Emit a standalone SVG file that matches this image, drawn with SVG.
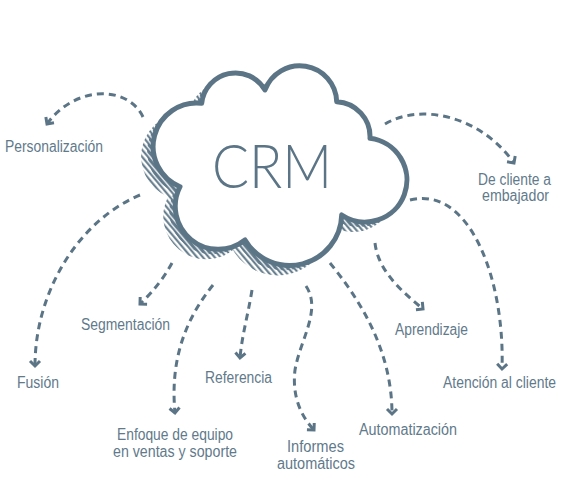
<svg xmlns="http://www.w3.org/2000/svg" width="573" height="492" viewBox="0 0 573 492">
<defs>
<style>
.lbl{font-family:"Liberation Sans Narrow","Liberation Sans",sans-serif;font-size:16px;fill:#5f7a8b;text-anchor:middle}
.crm{font-family:Lato,"Liberation Sans",sans-serif;font-weight:300;font-size:62px;fill:#5b7586;text-anchor:middle}
.con{fill:none;stroke:#5b7586;stroke-width:3;stroke-dasharray:7 5}
</style>
<marker id="arr" viewBox="-8 -8 12 16" markerWidth="12" markerHeight="16" refX="0" refY="0" orient="auto" markerUnits="userSpaceOnUse">
<path d="M-5,-5 L0,0 L-5,5" fill="none" stroke="#5b7586" stroke-width="3" stroke-linejoin="miter"/>
</marker>
<pattern id="hatch" width="4.5" height="4.5" patternUnits="userSpaceOnUse" patternTransform="rotate(-40)">
<line x1="1.2" y1="0" x2="1.2" y2="4.5" stroke="#5b7586" stroke-width="2"/>
</pattern>
<path id="cloudShape" d="M201.7,103.3 A34,34 0 0 1 265,90 A37,37 0 0 1 336.7,101.7 A35,35 0 0 1 370,138.3 A42,42 0 1 1 341.7,215 A52,52 0 0 1 245,240 A43,43 0 0 1 180,186.7 A43.5,43.5 0 0 1 201.7,103.3 Z"/>
</defs>
<g id="connectors">
<path class="con" marker-end="url(#arr)" d="M143,117 C128,85 75,85 47,124"/>
<path class="con" marker-end="url(#arr)" d="M385,124 C420,103 480,115 514,163"/>
<path class="con" marker-end="url(#arr)" d="M140,195 C80,220 35,290 35,366"/>
<path class="con" marker-end="url(#arr)" d="M172,263 Q160,285 140,304"/>
<path class="con" marker-end="url(#arr)" d="M213,285 C185,320 170,360 175,413"/>
<path class="con" marker-end="url(#arr)" d="M252,290 C248,315 242,335 240,358"/>
<path class="con" marker-end="url(#arr)" d="M306,286 C322,310 300,340 295,370 C292,395 300,415 314,430"/>
<path class="con" marker-end="url(#arr)" d="M330,263 C360,300 392,350 392,414"/>
<path class="con" marker-end="url(#arr)" d="M375,243 C378,270 400,290 423,309"/>
<path class="con" marker-end="url(#arr)" d="M410,200 C470,185 505,280 502,369"/>
</g>
<g id="cloud">
<use href="#cloudShape" transform="translate(-12,10)" fill="url(#hatch)"/>
<use href="#cloudShape" transform="translate(-6,5)" fill="url(#hatch)"/>
<use href="#cloudShape" fill="#ffffff" stroke="#5b7586" stroke-width="5" stroke-linejoin="round"/>
<text class="crm" x="272" y="188" textLength="120" lengthAdjust="spacingAndGlyphs">CRM</text>
</g>
<g id="personalizacion"><text class="lbl" x="54" y="152" textLength="98" lengthAdjust="spacingAndGlyphs">Personalización</text></g>
<g id="segmentacion"><text class="lbl" x="125.5" y="330" textLength="89" lengthAdjust="spacingAndGlyphs">Segmentación</text></g>
<g id="fusion"><text class="lbl" x="38" y="388" textLength="42" lengthAdjust="spacingAndGlyphs">Fusión</text></g>
<g id="referencia"><text class="lbl" x="238.5" y="383" textLength="67" lengthAdjust="spacingAndGlyphs">Referencia</text></g>
<g id="enfoque">
<text class="lbl" x="175" y="440" textLength="116" lengthAdjust="spacingAndGlyphs">Enfoque de equipo</text>
<text class="lbl" x="175" y="457" textLength="124" lengthAdjust="spacingAndGlyphs">en ventas y soporte</text>
</g>
<g id="informes">
<text class="lbl" x="315.5" y="452" textLength="57" lengthAdjust="spacingAndGlyphs">Informes</text>
<text class="lbl" x="316" y="469" textLength="78" lengthAdjust="spacingAndGlyphs">automáticos</text>
</g>
<g id="automatizacion"><text class="lbl" x="408" y="435" textLength="98" lengthAdjust="spacingAndGlyphs">Automatización</text></g>
<g id="aprendizaje"><text class="lbl" x="431.5" y="335" textLength="73" lengthAdjust="spacingAndGlyphs">Aprendizaje</text></g>
<g id="atencion"><text class="lbl" x="499.5" y="388" textLength="113" lengthAdjust="spacingAndGlyphs">Atención al cliente</text></g>
<g id="embajador">
<text class="lbl" x="514.5" y="185" textLength="73" lengthAdjust="spacingAndGlyphs">De cliente a</text>
<text class="lbl" x="515.5" y="201" textLength="67" lengthAdjust="spacingAndGlyphs">embajador</text>
</g>
</svg>
